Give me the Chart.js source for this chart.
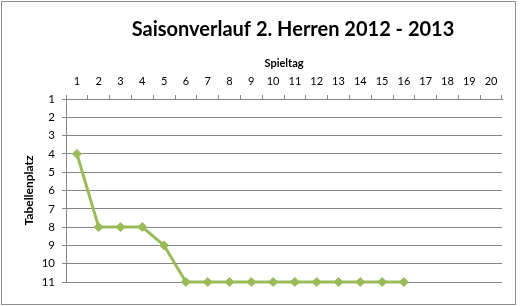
<!DOCTYPE html>
<html>
<head>
<meta charset="utf-8">
<script src="https://cdn.jsdelivr.net/npm/chart.js@4"></script>
<style>
  html, body { margin: 0; padding: 0; background: #fff; }
  #wrap { position: relative; width: 520px; height: 306px; }
  #frame { position: absolute; left: 1px; top: 1px; width: 513px; height: 302px; border: 1px solid #8e8e8e; pointer-events: none; }
</style>
</head>
<body>
<div id="wrap">
  <canvas id="seasonChart" width="520" height="306"></canvas>
  <div id="frame"></div>
</div>
<script>
// Chart data
const chartTitle = 'Saisonverlauf 2. Herren 2012 - 2013';
const spieltage = ['1', '2', '3', '4', '5', '6', '7', '8', '9', '10',
                   '11', '12', '13', '14', '15', '16', '17', '18', '19', '20'];
const tabellenplatz = [4, 8, 8, 8, 9, 11, 11, 11, 11, 11, 11, 11, 11, 11, 11, 11];
const platzMin = 1;
const platzMax = 11;

const fontFamily = 'Lato, "Open Sans", sans-serif';
const gridGray = '#868686';

// draws the main title centred over the plot area
const titlePlugin = {
    id: 'plotTitle',
    afterDraw(chart) {
        const ctx = chart.ctx;
        const area = chart.chartArea;
        ctx.save();
        ctx.font = 'bold 20px ' + fontFamily;
        ctx.fillStyle = '#000';
        ctx.textAlign = 'center';
        ctx.textBaseline = 'middle';
        ctx.fillText(chartTitle, (area.left + area.right) / 2 + 9, 30);
        ctx.restore();
    }
};

const ctxSeason = document.getElementById('seasonChart').getContext('2d');

const seasonChart = new Chart(ctxSeason, {
    type: 'line',
    data: {
        labels: spieltage,
        datasets: [{
            label: 'Tabellenplatz',
            data: tabellenplatz,
            borderColor: '#9bbb59',
            backgroundColor: '#9bbb59',
            borderWidth: 3,
            tension: 0,
            clip: false,
            pointStyle: 'rectRot',
            pointRadius: 4.5,
            pointBackgroundColor: '#9bbb59',
            pointBorderColor: '#9bbb59',
            pointBorderWidth: 1,
        }]
    },
    options: {
        responsive: false,
        animation: false,
        layout: {
            padding: { left: 0, top: 52, right: 18, bottom: 24 },
        },
        scales: {
            x: {
                position: 'top',
                offset: true,
                grid: {
                    offset: true,
                    drawOnChartArea: false,
                    drawTicks: true,
                    tickLength: 4,
                    tickColor: gridGray,
                },
                border: {
                    display: true,
                    color: gridGray,
                },
                ticks: {
                    color: '#000',
                    padding: 7,
                    maxRotation: 0,
                    autoSkip: false,
                    font: { family: fontFamily, size: 11 },
                },
                title: {
                    display: true,
                    text: 'Spieltag',
                    color: '#000',
                    padding: { top: 5, bottom: 0 },
                    font: { family: fontFamily, size: 11, weight: 'bold' },
                },
                afterFit(scale) {
                    scale.height = 47;
                },
            },
            y: {
                reverse: true,
                min: platzMin,
                max: platzMax,
                grid: {
                    color: gridGray,
                    lineWidth: 1,
                    drawTicks: true,
                    tickLength: 4,
                    tickColor: gridGray,
                },
                border: {
                    display: true,
                    color: gridGray,
                },
                ticks: {
                    stepSize: 1,
                    color: '#000',
                    padding: 7,
                    font: { family: fontFamily, size: 11.5 },
                },
                title: {
                    display: true,
                    text: 'Tabellenplatz',
                    color: '#000',
                    padding: { top: 22, bottom: 0 },
                    font: { family: fontFamily, size: 12, weight: 'bold' },
                },
                afterFit(scale) {
                    scale.width = 66;
                },
            },
        },
        plugins: {
            legend: {
                display: false,
            },
            tooltip: {
                enabled: false,
            },
        },
    },
    plugins: [titlePlugin],
});
</script>
</body>
</html>
